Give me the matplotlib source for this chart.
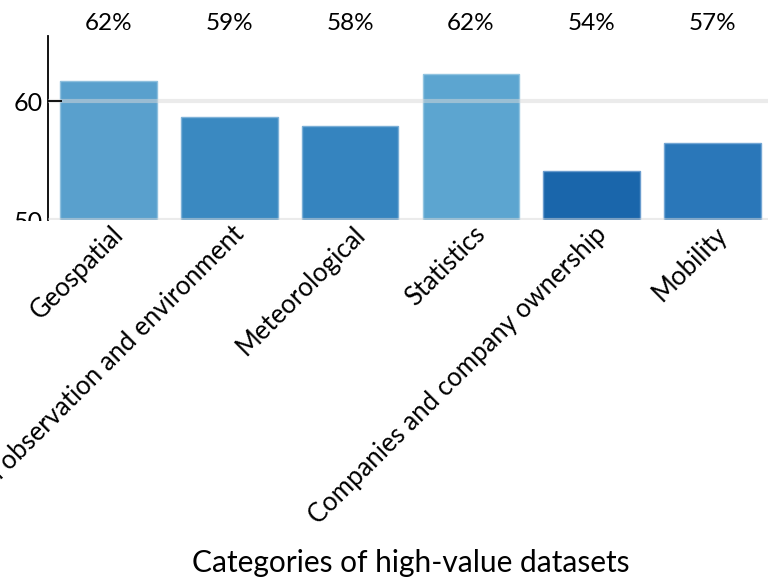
import matplotlib
matplotlib.use("Agg")
import matplotlib.pyplot as plt
from matplotlib.transforms import Bbox, TransformedBbox, ScaledTranslation

# datos
categorias = ["Geospatial", "Earth observation and environment", "Meteorological",
              "Statistics", "Companies and company ownership", "Mobility"]
valores = [61.7, 58.7, 57.9, 62.3, 54.1, 56.5]
etiquetas = ["62%", "59%", "58%", "62%", "54%", "57%"]
colores = ["#59a0cd", "#3a89c1", "#3584bf", "#5ca5d0", "#1a66ab", "#2a77b9"]
bordes = ["#8fc0de", "#7fb2d8", "#7aaed6", "#92c4e0", "#6a9cce", "#73a6d4"]

plt.rcParams['font.family'] = ['Lato', 'DejaVu Sans']

W, H = 768, 580
fig = plt.figure(figsize=(W / 100, H / 100), dpi=100)
# ejes algo mas anchos que la figura (recortados a la derecha)
ax = fig.add_axes([48 / W, (H - 220) / H, (773 - 48) / W, (220 - 36) / H])

x = list(range(len(categorias)))
ax.bar(x, valores, width=0.8, color=colores, edgecolor=bordes, linewidth=1, zorder=2)

ax.set_xlim(-0.5, 5.5)
ax.set_ylim(50, 65.5)
ax.set_yticks([50, 60])
ax.grid(axis='y', color='#d9d9d9', linewidth=3, alpha=0.5, zorder=3)
ax.set_axisbelow(False)

for s in ['top', 'right', 'bottom']:
    ax.spines[s].set_visible(False)
ax.spines['left'].set_linewidth(1.3)
ax.tick_params(axis='y', direction='in', length=10, width=1.3, labelsize=18, pad=4)
ax.tick_params(axis='x', length=0, pad=6)
ax.yaxis.get_major_ticks()[0].tick1line.set_visible(False)

ax.set_xticks(x)
ax.set_xticklabels(categorias, rotation=45, ha='right', va='center',
                   rotation_mode='anchor', fontsize=18.5)
desplazar = ScaledTranslation(11 / 100, -2 / 100, fig.dpi_scale_trans)
for lab in ax.get_xticklabels():
    lab.set_transform(lab.get_transform() + desplazar)

# porcentajes encima del eje
for xi, et in zip(x, etiquetas):
    ax.text(xi, 1.0 + 12 / 184, et, transform=ax.get_xaxis_transform(),
            ha='center', va='center', fontsize=17.5)

ax.set_xlabel("Categories of high-value datasets", fontsize=21.5)
ax.xaxis.set_label_coords((411 - 48) / (773 - 48), -(549 - 220) / 184)

# el "50" aparece cortado en el original
fig.canvas.draw()
recorte = TransformedBbox(Bbox([[0, (H - 221) / H], [1, 1]]), fig.transFigure)
for lab in ax.get_yticklabels():
    lab.set_clip_on(True)
    lab.set_clip_box(recorte)

fig.savefig("out.png", dpi=100)
